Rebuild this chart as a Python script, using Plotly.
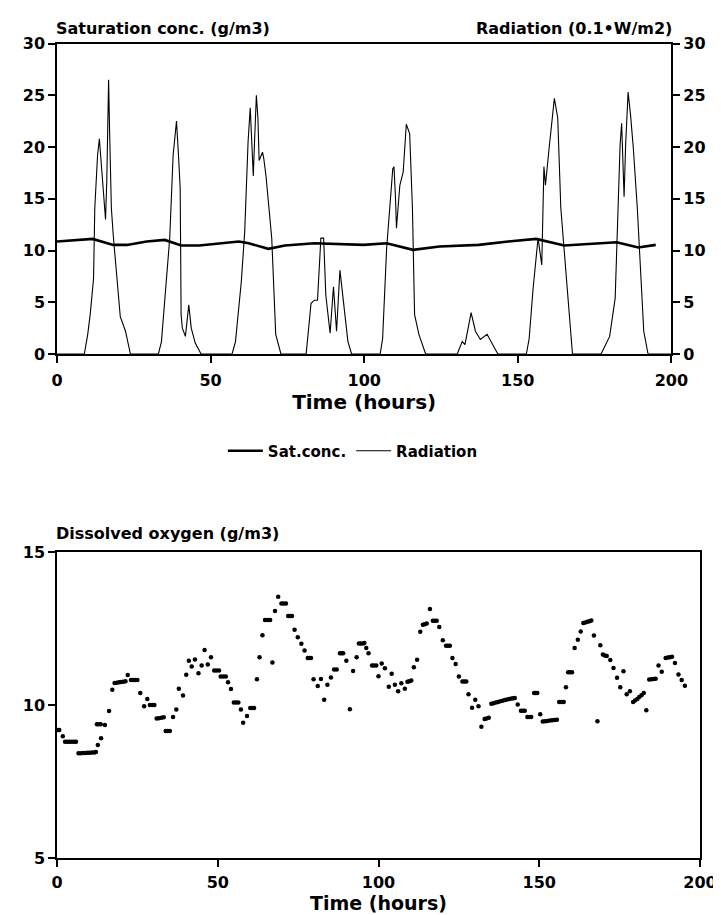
import plotly.graph_objects as go

# ---------------- data ----------------
# Radiation (0.1*W/m2) vs time (hours)
rad_hours = [0, 8.9, 10, 10.8, 11.9, 12.3, 13.2, 13.8, 14.2, 15.5, 15.8, 16.2, 16.8, 17.1, 17.7, 18.3, 19.6, 20.6, 22.3, 23.9,
             33, 34, 35.4, 36.7, 37.8, 38.9, 39.6, 40.1, 40.4, 40.8, 41.8, 42.9, 43.7, 45, 46.9,
             57, 58.1, 60, 61.1, 62.2, 62.9, 63.5, 63.9, 64.3, 64.9, 65.4, 65.8, 66.9, 67.3, 68, 69.9, 71.2, 72.9,
             81.1, 82.7, 83.8, 84.8, 85.9, 86.8, 87.5, 88.9, 90, 91, 92.1, 93.4, 94.7, 95.9,
             105.2, 106, 107.3, 109.3, 109.7, 110.2, 110.5, 111.6, 112.7, 113.7, 114.8, 115.7, 116.4, 117.8, 120,
             130.3, 131.9, 132.8, 134.8, 136.2, 137.8, 140, 141.6, 143.5,
             152.8, 153.7, 155, 156.6, 157.8, 158.5, 159, 159.5, 160.3, 161.9, 163, 164, 165.6, 167.8,
             177.1, 179.9, 181.7, 182.4, 183.3, 183.8, 184.2, 184.6, 185.1, 185.9, 186.7, 187.6, 188.9, 190.3, 191, 192.4, 200]
rad_values = [0, 0, 1.9, 3.8, 7.3, 14.1, 19.2, 20.8, 19.2, 14.1, 13.0, 16.7, 26.5, 21.8, 14.1, 11.5, 7.0, 3.6, 2.2, 0,
              0, 1.2, 6.4, 11.2, 19.2, 22.5, 18.9, 16.0, 3.8, 2.5, 1.7, 4.75, 2.5, 1.06, 0,
              0, 1.2, 7.0, 11.8, 20.5, 23.8, 20.3, 17.2, 20.5, 25.0, 22.8, 18.7, 19.5, 18.9, 17.3, 11.2, 1.9, 0,
              0, 4.9, 5.2, 5.2, 11.2, 11.2, 5.7, 2.0, 6.5, 2.2, 8.1, 4.75, 1.2, 0,
              0, 1.5, 10.2, 17.9, 18.1, 15.0, 12.15, 16.3, 17.6, 22.2, 21.3, 14.1, 3.8, 1.9, 0,
              0, 1.2, 0.9, 4.0, 2.2, 1.4, 1.9, 1.06, 0,
              0, 1.5, 6.4, 11.2, 8.6, 18.1, 16.3, 17.6, 20.2, 24.7, 22.8, 14.1, 8.0, 0,
              0, 1.7, 5.4, 11.2, 20.2, 22.3, 19.2, 15.2, 20.2, 25.3, 23.1, 19.9, 14.1, 6.4, 2.2, 0, 0]

# Saturation concentration (g/m3)
sat_hours = [0, 11.6, 18.3, 22.8, 29.2, 35.1, 40.4, 46.3, 59.2, 62.4, 68.8, 74.2, 83.8, 91.3, 95.6,
             99.8, 107.3, 115.9, 124.5, 137.3, 146.9, 156, 165.1, 174.7, 182.2, 189.2, 194.9]
sat_values = [10.87, 11.12, 10.54, 10.54, 10.87, 11.02, 10.48, 10.48, 10.87, 10.7, 10.16, 10.48, 10.7, 10.6, 10.54,
              10.54, 10.7, 10.06, 10.38, 10.54, 10.87, 11.12, 10.48, 10.7, 10.8, 10.29, 10.54]

# Dissolved oxygen (g/m3)
do_hours = [0.3, 0.7, 1.8, 2.5, 3.2, 3.9, 4.6, 5.3, 5.9,
            6.7, 7.4, 8.1, 8.8, 9.5, 10.2, 10.9, 11.6, 12.1,
            12.4, 12.7, 13.0, 13.6, 13.7, 14.9, 16.2, 17.2,
            17.9, 18.6, 19.3, 19.9, 20.6, 21.3, 22.0, 23.0, 23.7, 24.3, 25.0,
            25.9, 27.1, 28.1, 28.9, 29.6, 30.3, 31.0, 31.7, 32.5, 33.2, 33.8, 34.4, 35.1,
            36.1, 37.1, 37.9, 39.2, 40.2, 41.0, 41.9, 42.9, 44.0, 45.0, 45.9, 46.9, 47.9,
            48.9, 49.6, 50.4, 50.9, 51.7, 52.5, 53.2, 54.1, 55.0, 55.7, 56.4, 57.2, 57.9, 59.1,
            60.1, 60.7, 61.3, 62.2, 63.0, 63.9, 64.7, 65.5, 66.3, 67.0, 67.8, 68.8,
            69.8, 70.5, 71.2, 71.9, 72.5, 73.1, 73.9, 74.9, 76.0, 77.0, 78.0, 78.5, 79.0,
            79.8, 81.1, 82.1, 83.1, 84.1, 85.2, 86.2, 87.0, 88.0, 88.5, 89.0, 90.0, 91.1, 92.1, 93.2,
            93.9, 94.5, 95.2, 95.6, 96.2, 96.9, 98.0, 98.6, 99.3, 100.0, 101.0, 102.0, 103.2, 104.1,
            105.1, 106.1, 107.1, 108.2, 109.0, 109.6, 110.2, 111.0, 112.0, 113.0, 113.8, 114.4, 115.0,
            116.0, 116.9, 117.5, 118.1, 118.9, 120.0, 121.0, 121.6, 122.2, 123.0, 124.0, 125.0,
            126.1, 126.7, 127.3, 128.0, 129.1, 130.1, 131.1, 132.0, 133.0, 133.6, 134.3,
            135.1, 135.8, 136.5, 137.2, 137.9, 138.6, 139.3, 140.0, 140.7, 141.4, 142.0, 142.4,
            143.3, 144.3, 144.9, 145.5, 146.3, 146.9, 147.5, 148.4, 148.9, 149.4, 150.3,
            151.1, 151.8, 152.5, 153.3, 154.0, 154.7, 155.5, 156.2, 156.9, 157.6, 158.3,
            159.0, 159.6, 160.2, 161.0, 162.0, 162.9, 163.7, 164.3, 165.0, 165.6, 166.2, 167.0, 168.1,
            169.0, 169.8, 170.4, 171.0, 172.1, 173.1, 174.2, 175.2, 176.2, 177.2, 178.2,
            179.2, 179.8, 180.5, 181.1, 181.8, 182.5, 183.3, 184.2, 184.9, 185.6, 186.2,
            187.1, 188.1, 189.3, 190.0, 190.6, 191.3, 192.2, 193.3, 194.3, 195.3]
do_values = [9.18, 9.18, 8.98, 8.8, 8.8, 8.8, 8.8, 8.8, 8.8,
             8.42, 8.42, 8.43, 8.43, 8.44, 8.44, 8.45, 8.45, 8.46,
             9.37, 8.69, 9.37, 9.37, 8.91, 9.35, 9.8, 10.5,
             10.72, 10.73, 10.74, 10.75, 10.76, 10.78, 10.98, 10.82, 10.82, 10.82, 10.82,
             10.39, 9.96, 10.2, 10.0, 10.0, 10.0, 9.56, 9.57, 9.58, 9.6, 9.15, 9.15, 9.15,
             9.61, 9.85, 10.53, 10.31, 10.99, 11.45, 11.26, 11.49, 11.04, 11.29, 11.8, 11.32, 11.56,
             11.13, 11.13, 11.13, 10.93, 10.93, 10.93, 10.74, 10.52, 10.08, 10.08, 10.08, 9.85, 9.42, 9.64,
             9.9, 9.9, 9.9, 10.84, 11.56, 12.28, 12.78, 12.78, 12.78, 11.39, 13.07, 13.54,
             13.32, 13.32, 13.32, 12.91, 12.91, 12.91, 12.46, 12.21, 12.0, 11.78, 11.54, 11.54, 11.54,
             10.84, 10.62, 10.85, 10.17, 10.66, 10.9, 11.16, 11.16, 11.69, 11.69, 11.69, 11.45, 9.86, 11.11, 11.56,
             12.01, 12.01, 12.01, 12.03, 11.86, 11.69, 11.29, 11.29, 11.29, 10.94, 11.36, 11.2, 10.6, 11.02,
             10.66, 10.45, 10.71, 10.53, 10.76, 10.78, 10.8, 11.23, 11.48, 12.39, 12.62, 12.64, 12.66,
             13.14, 12.75, 12.75, 12.75, 12.55, 12.12, 11.94, 11.94, 11.94, 11.54, 11.34, 10.93,
             10.77, 10.77, 10.77, 10.35, 9.91, 10.17, 9.96, 9.29, 9.54, 9.56, 9.58,
             10.04, 10.06, 10.08, 10.1, 10.12, 10.14, 10.16, 10.18, 10.2, 10.21, 10.22, 10.23,
             10.02, 9.81, 9.81, 9.81, 9.61, 9.61, 9.61, 10.39, 10.39, 10.39, 9.7,
             9.46, 9.47, 9.48, 9.49, 9.5, 9.51, 9.52, 10.1, 10.1, 10.1, 10.58,
             11.07, 11.07, 11.07, 11.86, 12.13, 12.4, 12.68, 12.7, 12.72, 12.74, 12.76, 12.27, 9.47,
             11.95, 11.65, 11.62, 11.6, 11.47, 11.21, 10.89, 10.58, 11.1, 10.35, 10.45,
             10.1, 10.15, 10.2, 10.26, 10.32, 10.39, 9.83, 10.83, 10.84, 10.85, 10.86,
             11.29, 11.09, 11.54, 11.55, 11.56, 11.58, 11.37, 11.0, 10.82, 10.63]

x_ticks = [0, 50, 100, 150, 200]
top_y_ticks = [0, 5, 10, 15, 20, 25, 30]
bot_y_ticks = [5, 10, 15]

# ---------------- figure ----------------
FONT = "DejaVu Sans"
tick_font = dict(family=FONT, size=16, color="black", weight="bold")

fig = go.Figure()
fig.add_trace(go.Scatter(x=sat_hours, y=sat_values, mode="lines", name="Sat.conc.",
                         line=dict(color="black", width=2.6), xaxis="x", yaxis="y"))
fig.add_trace(go.Scatter(x=rad_hours, y=rad_values, mode="lines", name="Radiation",
                         line=dict(color="black", width=1.1), xaxis="x", yaxis="y2"))
fig.add_trace(go.Scatter(x=do_hours, y=do_values, mode="markers", showlegend=False,
                         marker=dict(color="black", size=4.5), xaxis="x3", yaxis="y3"))

W, H = 721, 915
L, R, T, B = 49, 20, 35, 65
pw, ph = W - L - R, H - T - B


def px_x(px):
    return (px - L) / pw


def px_y(py):
    return (H - B - py) / ph


axis_common = dict(showline=True, linecolor="black", linewidth=1.5, ticks="outside", ticklen=7,
                   tickwidth=1.5, tickcolor="black", showgrid=False, zeroline=False,
                   tickfont=tick_font)

fig.update_layout(
    width=W, height=H,
    margin=dict(l=L, r=R, t=T, b=B),
    paper_bgcolor="white", plot_bgcolor="white",
    font=dict(family=FONT, color="black"),
    xaxis=dict(domain=[0, px_x(672)], anchor="y", range=[0, 200], tickvals=x_ticks, mirror=True,
               title=dict(text="Time (hours)", font=dict(family=FONT, size=20, weight="bold"), standoff=6),
               ticklabelstandoff=4, **axis_common),
    yaxis=dict(domain=[px_y(346), px_y(35.5)], anchor="x", range=[0, 30], tickvals=top_y_ticks,
               **axis_common),
    yaxis2=dict(domain=[px_y(346), px_y(35.5)], anchor="x", overlaying="y", side="right",
                range=[0, 30], tickvals=top_y_ticks, **axis_common),
    xaxis3=dict(domain=[0, 1], anchor="y3", range=[0, 200], tickvals=x_ticks, mirror=True,
                title=dict(text="Time (hours)", font=dict(family=FONT, size=19, weight="bold"), standoff=1),
                ticklabelstandoff=2, **axis_common),
    yaxis3=dict(domain=[0, px_y(544)], anchor="x3", range=[5, 15], tickvals=bot_y_ticks, mirror=True,
                **axis_common),
    legend=dict(orientation="h", x=0.5 * (px_x(208) + px_x(490)), xanchor="center",
                y=px_y(443), yanchor="middle",
                font=dict(family=FONT, size=15, weight="bold", color="black"),
                itemwidth=35, bgcolor="rgba(0,0,0,0)"),
    showlegend=True,
)

fig.add_annotation(text="Saturation conc. (g/m3)", xref="paper", yref="paper", x=px_x(46), y=px_y(20),
                   xanchor="left", yanchor="middle", showarrow=False,
                   font=dict(family=FONT, size=16, weight="bold", color="black"))
fig.add_annotation(text="Radiation (0.1•W/m2)", xref="paper", yref="paper", x=px_x(675), y=px_y(20),
                   xanchor="right", yanchor="middle", showarrow=False,
                   font=dict(family=FONT, size=16, weight="bold", color="black"))
fig.add_annotation(text="Dissolved oxygen (g/m3)", xref="paper", yref="paper", x=px_x(46), y=px_y(525),
                   xanchor="left", yanchor="middle", showarrow=False,
                   font=dict(family=FONT, size=16, weight="bold", color="black"))

fig.write_html("out.html")
